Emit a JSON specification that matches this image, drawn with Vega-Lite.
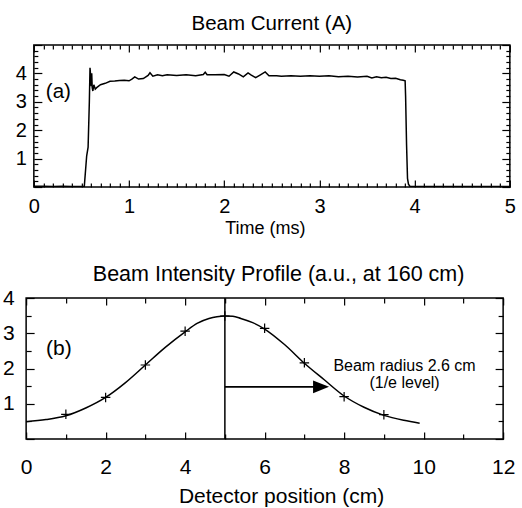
{
  "$schema": "https://vega.github.io/schema/vega-lite/v6.json",
  "padding": {"left": 1, "top": 12, "right": 0, "bottom": 0},
  "spacing": 24,
  "center": true,
  "config": {
    "font": "Liberation Sans",
    "view": {"stroke": "black", "strokeWidth": 1.5},
    "axis": {"domain": false, "grid": false, "labelFont": "Liberation Sans", "labelFontSize": 20, "labelColor": "black", "titleFont": "Liberation Sans", "titleFontSize": 20, "titleFontWeight": "normal", "titleColor": "black", "tickColor": "black", "tickWidth": 1.2, "labelOverlap": false, "labelFlush": false, "labelBound": false, "minExtent": 0},
    "title": {"fontSize": 20, "fontWeight": "normal", "color": "black", "font": "Liberation Sans"}
  },
  "vconcat": [
    {
      "title": {"text": "Beam Current (A)", "offset": 1, "fontSize": 20.5},
      "width": 476,
      "height": 142,
      "resolve": {"axis": {"x": "independent", "y": "independent"}},
      "layer": [
        {
          "data": {"values": [
            {"t": 0, "v": 0.03}, {"t": 0.1, "v": 0.03}, {"t": 0.2, "v": 0.02}, {"t": 0.3, "v": 0.03}, {"t": 0.4, "v": 0.02}, {"t": 0.5, "v": 0.02}, {"t": 0.53, "v": 0.02},
            {"t": 0.555, "v": 1.1}, {"t": 0.57, "v": 1.4}, {"t": 0.583, "v": 3.0}, {"t": 0.59, "v": 4.2}, {"t": 0.597, "v": 3.9}, {"t": 0.603, "v": 3.55}, {"t": 0.608, "v": 4.0}, {"t": 0.613, "v": 3.5}, {"t": 0.62, "v": 3.38}, {"t": 0.63, "v": 3.6}, {"t": 0.645, "v": 3.45}, {"t": 0.66, "v": 3.5}, {"t": 0.68, "v": 3.55},
            {"t": 0.7, "v": 3.6}, {"t": 0.75, "v": 3.65}, {"t": 0.8, "v": 3.72}, {"t": 0.85, "v": 3.73}, {"t": 0.9, "v": 3.75}, {"t": 0.95, "v": 3.76}, {"t": 1.0, "v": 3.74}, {"t": 1.03, "v": 3.8}, {"t": 1.06, "v": 3.88}, {"t": 1.1, "v": 3.8}, {"t": 1.15, "v": 3.82},
            {"t": 1.2, "v": 3.93}, {"t": 1.22, "v": 4.02}, {"t": 1.25, "v": 3.9}, {"t": 1.3, "v": 3.95}, {"t": 1.35, "v": 3.92}, {"t": 1.4, "v": 3.95}, {"t": 1.5, "v": 3.93}, {"t": 1.6, "v": 3.95}, {"t": 1.7, "v": 3.92}, {"t": 1.78, "v": 3.96}, {"t": 1.8, "v": 4.04}, {"t": 1.82, "v": 3.95}, {"t": 1.9, "v": 3.95},
            {"t": 2.0, "v": 3.96}, {"t": 2.05, "v": 3.9}, {"t": 2.1, "v": 4.05}, {"t": 2.15, "v": 3.98}, {"t": 2.2, "v": 3.88}, {"t": 2.25, "v": 4.02}, {"t": 2.28, "v": 3.95}, {"t": 2.33, "v": 3.85}, {"t": 2.38, "v": 3.95}, {"t": 2.43, "v": 4.05}, {"t": 2.47, "v": 3.92}, {"t": 2.55, "v": 3.92},
            {"t": 2.6, "v": 3.9}, {"t": 2.7, "v": 3.92}, {"t": 2.8, "v": 3.9}, {"t": 2.9, "v": 3.92}, {"t": 3.0, "v": 3.9}, {"t": 3.1, "v": 3.92}, {"t": 3.2, "v": 3.88}, {"t": 3.3, "v": 3.9}, {"t": 3.4, "v": 3.87}, {"t": 3.5, "v": 3.9}, {"t": 3.55, "v": 3.84}, {"t": 3.6, "v": 3.88}, {"t": 3.65, "v": 3.85}, {"t": 3.7, "v": 3.86}, {"t": 3.75, "v": 3.82}, {"t": 3.8, "v": 3.83}, {"t": 3.85, "v": 3.78}, {"t": 3.88, "v": 3.76}, {"t": 3.9, "v": 3.74},
            {"t": 3.905, "v": 3.2}, {"t": 3.915, "v": 1.5}, {"t": 3.925, "v": 0.3}, {"t": 3.935, "v": 0.1}, {"t": 3.95, "v": 0.03}, {"t": 4.0, "v": 0.02}, {"t": 4.2, "v": 0.02}, {"t": 4.5, "v": 0.02}, {"t": 5.0, "v": 0.02}
          ]},
          "mark": {"type": "line", "color": "black", "strokeWidth": 1.5, "clip": true},
          "encoding": {
            "x": {"field": "t", "type": "quantitative", "scale": {"domain": [0, 5], "nice": false, "zero": false},
              "axis": {"orient": "bottom", "title": "Time (ms)", "titlePadding": 0, "titleFontSize": 18, "titleX": 231,
                "values": [0,0.1,0.2,0.3,0.4,0.5,0.6,0.7,0.8,0.9,1,1.1,1.2,1.3,1.4,1.5,1.6,1.7,1.8,1.9,2,2.1,2.2,2.3,2.4,2.5,2.6,2.7,2.8,2.9,3,3.1,3.2,3.3,3.4,3.5,3.6,3.7,3.8,3.9,4,4.1,4.2,4.3,4.4,4.5,4.6,4.7,4.8,4.9,5],
                "labelExpr": "abs(datum.value-round(datum.value))<0.01 ? format(datum.value,'d') : ''",
                "tickSize": {"condition": {"test": "abs(datum.value-round(datum.value))<0.01", "value": -7}, "value": -4},
                "labelPadding": 16}},
            "y": {"field": "v", "type": "quantitative", "scale": {"domain": [0, 5], "nice": false, "zero": false},
              "axis": {"orient": "left", "title": null,
                "values": [0,0.2,0.4,0.6,0.8,1,1.2,1.4,1.6,1.8,2,2.2,2.4,2.6,2.8,3,3.2,3.4,3.6,3.8,4,4.2,4.4,4.6,4.8,5],
                "labelExpr": "abs(datum.value-round(datum.value))<0.01 && datum.value>0.5 && datum.value<4.5 ? format(datum.value,'d') : ''",
                "tickSize": {"condition": {"test": "abs(datum.value-round(datum.value))<0.01", "value": -8}, "value": -4},
                "labelPadding": 15.5, "minExtent": 0}}
          }
        },
        {
          "data": {"values": [{"t": 0.126, "v": 3.13, "label": "(a)"}]},
          "mark": {"type": "text", "align": "left", "baseline": "alphabetic", "fontSize": 20.5, "font": "Liberation Sans", "color": "black"},
          "encoding": {
            "x": {"field": "t", "type": "quantitative",
              "axis": {"orient": "top", "title": null, "labels": false, "minExtent": 0, "maxExtent": 0,
                "values": [0,0.1,0.2,0.3,0.4,0.5,0.6,0.7,0.8,0.9,1,1.1,1.2,1.3,1.4,1.5,1.6,1.7,1.8,1.9,2,2.1,2.2,2.3,2.4,2.5,2.6,2.7,2.8,2.9,3,3.1,3.2,3.3,3.4,3.5,3.6,3.7,3.8,3.9,4,4.1,4.2,4.3,4.4,4.5,4.6,4.7,4.8,4.9,5],
                "tickSize": {"condition": {"test": "abs(datum.value-round(datum.value))<0.01", "value": -7}, "value": -4}}},
            "y": {"field": "v", "type": "quantitative",
              "axis": {"orient": "right", "title": null, "labels": false, "minExtent": 0, "maxExtent": 0,
                "values": [0,0.2,0.4,0.6,0.8,1,1.2,1.4,1.6,1.8,2,2.2,2.4,2.6,2.8,3,3.2,3.4,3.6,3.8,4,4.2,4.4,4.6,4.8,5],
                "tickSize": {"condition": {"test": "abs(datum.value-round(datum.value))<0.01", "value": -8}, "value": -4}}},
            "text": {"field": "label"}
          }
        }
      ]
    },
    {
      "title": {"text": "Beam Intensity Profile (a.u., at 160 cm)", "offset": 2, "dx": 14, "fontSize": 21.5},
      "width": 477,
      "height": 141,
      "resolve": {"axis": {"x": "independent", "y": "independent"}},
      "layer": [
        {
          "data": {"values": [
            {"x": 0, "y": 0.49}, {"x": 0.5, "y": 0.55}, {"x": 1, "y": 0.66}, {"x": 1.5, "y": 0.88}, {"x": 2, "y": 1.18}, {"x": 2.5, "y": 1.6}, {"x": 3, "y": 2.1}, {"x": 3.5, "y": 2.6}, {"x": 4, "y": 3.04}, {"x": 4.3, "y": 3.28}, {"x": 4.6, "y": 3.42}, {"x": 4.8, "y": 3.47}, {"x": 5, "y": 3.49}, {"x": 5.2, "y": 3.48}, {"x": 5.4, "y": 3.42}, {"x": 5.7, "y": 3.3}, {"x": 6, "y": 3.12}, {"x": 6.5, "y": 2.68}, {"x": 7, "y": 2.15}, {"x": 7.5, "y": 1.68}, {"x": 8, "y": 1.22}, {"x": 8.5, "y": 0.9}, {"x": 9, "y": 0.67}, {"x": 9.5, "y": 0.53}, {"x": 9.9, "y": 0.45}
          ]},
          "mark": {"type": "line", "color": "black", "strokeWidth": 1.5, "interpolate": "monotone"},
          "encoding": {
            "x": {"field": "x", "type": "quantitative", "scale": {"domain": [0, 12], "nice": false, "zero": false},
              "axis": {"orient": "bottom", "title": "Detector position (cm)", "titlePadding": 6, "titleFontSize": 21, "titleX": 255, "labelFontSize": 21,
                "values": [0,1,2,3,4,5,6,7,8,9,10,11,12],
                "labelExpr": "datum.value % 2 == 0 ? format(datum.value,'d') : ''",
                "tickSize": {"condition": {"test": "datum.value % 2 == 0", "value": -7}, "value": -5},
                "labelPadding": 24}},
            "y": {"field": "y", "type": "quantitative", "scale": {"domain": [0, 4], "nice": false, "zero": false},
              "axis": {"orient": "left", "title": null, "labelFontSize": 21,
                "values": [0,0.5,1,1.5,2,2.5,3,3.5,4],
                "labelExpr": "datum.value % 1 == 0 && datum.value > 0.5 ? format(datum.value,'d') : ''",
                "tickSize": {"condition": {"test": "datum.value % 1 == 0", "value": -8}, "value": -5},
                "labelPadding": 20, "minExtent": 0}}
          }
        },
        {
          "data": {"values": [
            {"x": 1, "y": 0.7}, {"x": 2, "y": 1.18}, {"x": 3, "y": 2.1}, {"x": 4, "y": 3.06}, {"x": 5, "y": 3.49}, {"x": 6, "y": 3.14}, {"x": 7, "y": 2.16}, {"x": 8, "y": 1.2}, {"x": 9, "y": 0.69}
          ]},
          "mark": {"type": "point", "shape": "M-1,0L1,0M0,-1L0,1", "size": 90, "filled": false, "stroke": "black", "strokeWidth": 1.2, "opacity": 1},
          "encoding": {
            "x": {"field": "x", "type": "quantitative",
              "axis": {"orient": "top", "title": null, "labels": false, "minExtent": 0, "maxExtent": 0,
                "values": [0,1,2,3,4,5,6,7,8,9,10,11,12],
                "tickSize": {"condition": {"test": "datum.value % 2 == 0", "value": -7}, "value": -5}}},
            "y": {"field": "y", "type": "quantitative",
              "axis": {"orient": "right", "title": null, "labels": false, "minExtent": 20, "maxExtent": 20,
                "values": [0,0.5,1,1.5,2,2.5,3,3.5,4],
                "tickSize": {"condition": {"test": "datum.value % 1 == 0", "value": -8}, "value": -5}}}
          }
        },
        {
          "data": {"values": [{"x": 5, "y": 0, "y2": 4}]},
          "mark": {"type": "rule", "color": "black", "strokeWidth": 1.5},
          "encoding": {
            "x": {"field": "x", "type": "quantitative", "axis": null},
            "y": {"field": "y", "type": "quantitative", "axis": null},
            "y2": {"field": "y2"}
          }
        },
        {
          "data": {"values": [{"x": 5, "x2": 7.3, "y": 1.48}]},
          "mark": {"type": "rule", "color": "black", "strokeWidth": 1.8},
          "encoding": {
            "x": {"field": "x", "type": "quantitative", "axis": null},
            "x2": {"field": "x2"},
            "y": {"field": "y", "type": "quantitative", "axis": null}
          }
        },
        {
          "data": {"values": [{"x": 7.42, "y": 1.48}]},
          "mark": {"type": "point", "shape": "M-1,-0.8L1,0L-1,0.8Z", "size": 256, "filled": true, "color": "black", "opacity": 1},
          "encoding": {
            "x": {"field": "x", "type": "quantitative", "axis": null},
            "y": {"field": "y", "type": "quantitative", "axis": null}
          }
        },
        {
          "data": {"values": [{"x": 9.52, "y": 1.93, "label": "Beam radius 2.6 cm"}, {"x": 9.52, "y": 1.44, "label": "(1/e level)"}]},
          "mark": {"type": "text", "align": "center", "baseline": "alphabetic", "fontSize": 16, "font": "Liberation Sans", "color": "black"},
          "encoding": {
            "x": {"field": "x", "type": "quantitative", "axis": null},
            "y": {"field": "y", "type": "quantitative", "axis": null},
            "text": {"field": "label"}
          }
        },
        {
          "data": {"values": [{"x": 0.5, "y": 2.38, "label": "(b)"}]},
          "mark": {"type": "text", "align": "left", "baseline": "alphabetic", "fontSize": 21, "font": "Liberation Sans", "color": "black"},
          "encoding": {
            "x": {"field": "x", "type": "quantitative", "axis": null},
            "y": {"field": "y", "type": "quantitative", "axis": null},
            "text": {"field": "label"}
          }
        }
      ]
    }
  ]
}
